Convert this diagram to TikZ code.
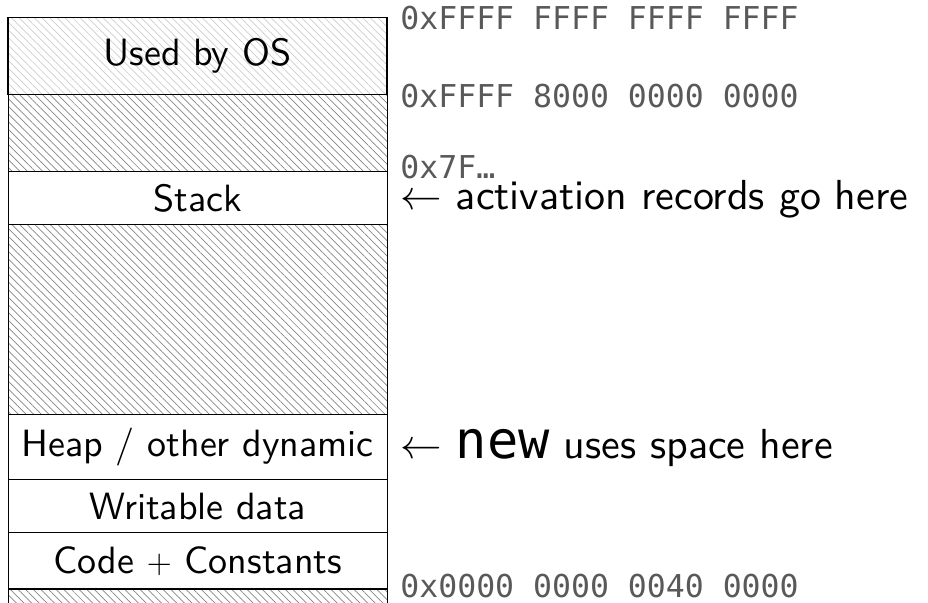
\documentclass[tikz,border=0pt]{standalone}
\usepackage{fontspec}
\setsansfont{lmsans10-regular.otf}
\newfontfamily\addrmono{DejaVu Sans Mono}
\usetikzlibrary{patterns.meta}
\begin{document}
\begin{tikzpicture}[x=0.5pt,y=-0.5pt,
  region/.style={draw=black, line width=0.7pt, rectangle, inner sep=0pt,
    minimum width=189.5pt, anchor=north west,
    font=\fontsize{19}{23}\selectfont\sffamily},
  hatch/.style={pattern={Lines[angle=-45,distance=2.7pt,line width=0.35pt]}, pattern color=black!48},
  oshatch/.style={pattern={Lines[angle=-45,distance=2.7pt,line width=0.35pt]}, pattern color=black!20},
  addr/.style={inner sep=0pt, anchor=west, font=\fontsize{15.75}{19}\addrmono, text=black!65},
  note/.style={inner sep=0pt, anchor=base west, font=\fontsize{21}{25}\selectfont\sffamily}]
\useasboundingbox (0,0) rectangle (928,602);
\begin{scope}
\clip (0,0) rectangle (928,602);
\node[region, oshatch, minimum height=38.35pt] (os) at (7.5,17.3) {Used by OS};
\node[region, hatch, minimum height=38.35pt] (gapa) at (7.5,94) {};
\node[region, minimum height=26.65pt] (stack) at (7.5,170.7) {Stack};
\node[region, hatch, minimum height=95pt] (gapb) at (7.5,224) {};
\node[region, minimum height=32.5pt] (heap) at (7.5,414) {Heap / other dynamic};
\node[region, minimum height=26.35pt] (data) at (7.5,479) {Writable data};
\node[region, minimum height=28.3pt] (code) at (7.5,531.7) {Code $+$ Constants};
\node[region, hatch, minimum height=20pt] (gapc) at (7.5,588.3) {};
\end{scope}
\node[addr] (atop) at (400,18) {0xFFFF FFFF FFFF FFFF};
\node[addr] (aos) at (400,96.5) {0xFFFF 8000 0000 0000};
\node[addr, anchor=base west] (astack) at (400,178) {0x7F…};
\node[addr] (acode) at (400,586) {0x0000 0000 0040 0000};
\node[note] (stacknote) at (400,209) {$\leftarrow$ activation records go here};
\node[note] (heapnote) at (400,458) {$\leftarrow$ {\fontsize{26}{29}\addrmono new} uses space here};
\end{tikzpicture}
\end{document}
